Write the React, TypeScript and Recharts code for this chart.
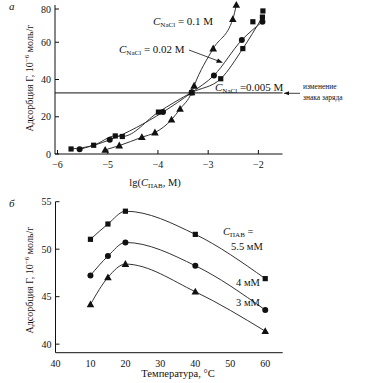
import React from "react";
import {
  LineChart, Line, XAxis, YAxis, ReferenceLine,
} from "recharts";

// panel a: adsorption vs lg(C)
const sq005 = [
  { x: -5.73, y: 2.7 }, { x: -5.28, y: 4.7 }, { x: -4.85, y: 9.7 }, { x: -4.71, y: 9.4 },
  { x: -3.99, y: 22.5 }, { x: -3.33, y: 33.0 }, { x: -2.75, y: 40.4 }, { x: -2.31, y: 56.6 },
  { x: -1.92, y: 73.5 },
];
const sqExtra = [{ x: -2.11, y: 71 }, { x: -1.91, y: 76.8 }];
const ci002 = [
  { x: -5.56, y: 2.5 }, { x: -4.96, y: 7.6 }, { x: -3.9, y: 22.5 }, { x: -3.33, y: 33.0 },
  { x: -2.885, y: 42.2 }, { x: -2.33, y: 61.2 }, { x: -1.92, y: 71 },
];
const tr01 = [
  { x: -5.05, y: 2.2 }, { x: -4.77, y: 4.5 }, { x: -4.32, y: 9.0 }, { x: -4.06, y: 11.5 },
  { x: -3.73, y: 18.4 }, { x: -3.56, y: 24.2 }, { x: -3.33, y: 33.0 }, { x: -3.28, y: 36.6 },
  { x: -2.9, y: 56.6 }, { x: -2.51, y: 72.4 }, { x: -2.44, y: 80 },
];
const topXTicks = [-6, -5, -4, -3, -2];
const topYTicks = [0, 20, 40, 60, 80];
const chargeLevel = 32.8;

// panel b: adsorption vs temperature
const temps = [10, 15, 20, 40, 60];
const g55 = [51.04, 52.65, 54.0, 51.56, 46.9];
const g4 = [47.24, 49.27, 50.71, 48.26, 43.6];
const g3 = [44.18, 47.03, 48.43, 45.52, 41.37];
const botXTicks = [0, 10, 20, 30, 40, 50, 60];
const botXLabels = ["40", "10", "20", "30", "40", "50", "60"];
const botYTicks = [40, 45, 50, 55];

const rows = (vals: number[]) => temps.map((t, i) => ({ x: t, y: vals[i] }));

const FONT = "'Liberation Serif', 'DejaVu Serif', serif";
const INK = "#111";

const P1 = { left: 55, right: 282.5, top: 5, bottom: 154 };
const P2 = { left: 55.5, right: 282.7, top: 11.7, bottom: 162.7 };

function Square(p: any) {
  if (p.cx == null) return null;
  return <rect x={p.cx - 2.6} y={p.cy - 2.6} width={5.2} height={5.2} fill={INK} />;
}
function Dot(p: any) {
  if (p.cx == null) return null;
  return <circle cx={p.cx} cy={p.cy} r={3} fill={INK} />;
}
function Tri(p: any) {
  if (p.cx == null) return null;
  const { cx, cy } = p;
  return <polygon points={`${cx},${cy - 4} ${cx - 3.8},${cy + 2.8} ${cx + 3.8},${cy + 2.8}`} fill={INK} />;
}

const mk = (Shape: any) => (p: any) => <Shape key={`d${p.index}`} {...p} />;

const leftTick = (P: any) => (p: any) => (
  <g>
    <line x1={P.left} x2={P.left + 4} y1={p.y} y2={p.y} stroke={INK} />
    <text x={P.left - 4} y={p.y + 3.5} textAnchor="end" fontSize={10} fontFamily={FONT} fill={INK}>
      {p.payload.value}
    </text>
  </g>
);
const rightTick = (P: any) => (p: any) => (
  <line x1={P.right - 4} x2={P.right} y1={p.y} y2={p.y} stroke={INK} />
);
const bottomTick = (P: any, labels?: (v: number) => string, marks = true) => (p: any) => (
  <g>
    {marks && <line x1={p.x} x2={p.x} y1={P.bottom} y2={P.bottom - 4} stroke={INK} />}
    <text x={p.x} y={P.bottom + 14} textAnchor="middle" fontSize={10} fontFamily={FONT} fill={INK}>
      {labels ? labels(p.payload.value) : p.payload.value < 0 ? `\u2212${-p.payload.value}` : p.payload.value}
    </text>
  </g>
);

function CNaCl({ x, y, rest }: { x: number; y: number; rest: string }) {
  return (
    <text x={x} y={y} fontSize={11} fontFamily={FONT} fill={INK}>
      <tspan fontStyle="italic">C</tspan>
      <tspan fontSize={7} dy={2}>NaCl</tspan>
      <tspan dy={-2}>{rest}</tspan>
    </text>
  );
}

export default function App() {
  return (
    <div style={{ position: "absolute", left: 0, top: 0, width: 371, height: 383, background: "#fff" }}>
      <div style={{ position: "absolute", left: 0, top: 0 }}>
        <LineChart width={371} height={190} margin={{ top: P1.top, right: 371 - P1.right, bottom: 0, left: 0 }}>
          <XAxis type="number" dataKey="x" domain={[-6.05, -1.52]} ticks={topXTicks} height={190 - P1.bottom}
            axisLine={{ stroke: INK }} tickLine={false} tick={bottomTick(P1)} allowDataOverflow />
          <YAxis yAxisId="l" type="number" dataKey="y" domain={[0, 80]} ticks={topYTicks} width={P1.left}
            axisLine={{ stroke: INK }} tickLine={false} tick={leftTick(P1)} />
          <YAxis yAxisId="r" orientation="right" type="number" domain={[0, 80]} ticks={[20, 40, 60]} width={0}
            axisLine={{ stroke: INK, strokeWidth: 2 }} tickLine={false} tick={rightTick(P1)} />
          <ReferenceLine yAxisId="l" y={chargeLevel} stroke={INK} strokeWidth={1} />
          <Line yAxisId="l" data={sq005} dataKey="y" type="monotone" stroke="#333" strokeWidth={1}
            dot={mk(Square)} isAnimationActive={false} />
          <Line yAxisId="l" data={ci002} dataKey="y" type="monotone" stroke="#333" strokeWidth={1}
            dot={mk(Dot)} isAnimationActive={false} />
          <Line yAxisId="l" data={tr01} dataKey="y" type="monotone" stroke="#333" strokeWidth={1}
            dot={mk(Tri)} isAnimationActive={false} />
          <Line yAxisId="l" data={sqExtra} dataKey="y" stroke="none" dot={mk(Square)} isAnimationActive={false} />
        </LineChart>
      </div>
      <div style={{ position: "absolute", left: 0, top: 190 }}>
        <LineChart width={371} height={193} margin={{ top: P2.top, right: 371 - P2.right, bottom: 0, left: 0 }}>
          <XAxis type="number" dataKey="x" domain={[0, 65]} ticks={botXTicks} height={193 - P2.bottom}
            axisLine={{ stroke: INK }} tickLine={false}
            tick={bottomTick(P2, (v) => botXLabels[botXTicks.indexOf(v)], false)} />
          <YAxis yAxisId="l" type="number" dataKey="y" domain={[39.1, 55]} ticks={botYTicks} width={P2.left}
            axisLine={{ stroke: INK }} tickLine={false} tick={leftTick(P2)} allowDataOverflow />
          <YAxis yAxisId="r" orientation="right" type="number" domain={[39.1, 55]} ticks={[40, 45, 50]} width={0}
            axisLine={{ stroke: INK, strokeWidth: 2 }} tickLine={false} tick={rightTick(P2)} allowDataOverflow />
          <Line yAxisId="l" data={rows(g55)} dataKey="y" type="monotone" stroke="#333" strokeWidth={1}
            dot={mk(Square)} isAnimationActive={false} />
          <Line yAxisId="l" data={rows(g4)} dataKey="y" type="monotone" stroke="#333" strokeWidth={1}
            dot={mk(Dot)} isAnimationActive={false} />
          <Line yAxisId="l" data={rows(g3)} dataKey="y" type="monotone" stroke="#333" strokeWidth={1}
            dot={mk(Tri)} isAnimationActive={false} />
        </LineChart>
      </div>
      <svg width={371} height={383} style={{ position: "absolute", left: 0, top: 0, pointerEvents: "none" }}>
        <text x={9} y={10} fontSize={11} fontStyle="italic" fontFamily={FONT} fill={INK}>а</text>
        <text x={9} y={207} fontSize={11} fontStyle="italic" fontFamily={FONT} fill={INK}>б</text>

        <text transform="translate(33,78) rotate(-90)" textAnchor="middle" fontSize={10} fontFamily={FONT} fill={INK}>
          Адсорбция Г, 10<tspan fontSize={7} dy={-4}>−6</tspan><tspan dy={4}> моль/г</tspan>
        </text>
        <text transform="translate(33,280) rotate(-90)" textAnchor="middle" fontSize={10} fontFamily={FONT} fill={INK}>
          Адсорбция Г, 10<tspan fontSize={7} dy={-4}>−6</tspan><tspan dy={4}> моль/г</tspan>
        </text>

        <text x={155} y={186} textAnchor="middle" fontSize={10.5} fontFamily={FONT} fill={INK}>
          lg(<tspan fontStyle="italic">C</tspan><tspan fontSize={7} dy={2}>ПАВ</tspan><tspan dy={-2}>, М)</tspan>
        </text>
        <text x={178} y={377} textAnchor="middle" fontSize={10.5} fontFamily={FONT} fill={INK}>Температура, °С</text>

        <CNaCl x={153} y={25} rest=" = 0.1 M" />
        <CNaCl x={119} y={53} rest=" = 0.02 M" />
        <CNaCl x={215} y={91} rest=" =0.005 M" />
        <line x1={189} y1={50} x2={221} y2={62} stroke={INK} strokeWidth={0.8} />
        <polygon points="223,62.7 216,62.8 218,58.6" fill={INK} />

        <line x1={284} y1={93.3} x2={300} y2={93.3} stroke={INK} strokeWidth={0.8} />
        <polygon points="284,93.3 289,91.3 289,95.3" fill={INK} />
        <text x={303} y={89} fontSize={7.5} fontFamily={FONT} fill={INK}>изменение</text>
        <text x={303} y={100} fontSize={7.5} fontFamily={FONT} fill={INK}>знака заряда</text>

        <text x={223} y={235} fontSize={10.5} fontFamily={FONT} fill={INK}>
          <tspan fontStyle="italic">C</tspan><tspan fontSize={7} dy={2}>ПАВ</tspan><tspan dy={-2}> =</tspan>
        </text>
        <text x={231} y={250} fontSize={10.5} fontFamily={FONT} fill={INK}>5.5 мМ</text>
        <text x={236} y={286} fontSize={10.5} fontFamily={FONT} fill={INK}>4 мМ</text>
        <text x={236} y={306} fontSize={10.5} fontFamily={FONT} fill={INK}>3 мМ</text>
      </svg>
    </div>
  );
}
